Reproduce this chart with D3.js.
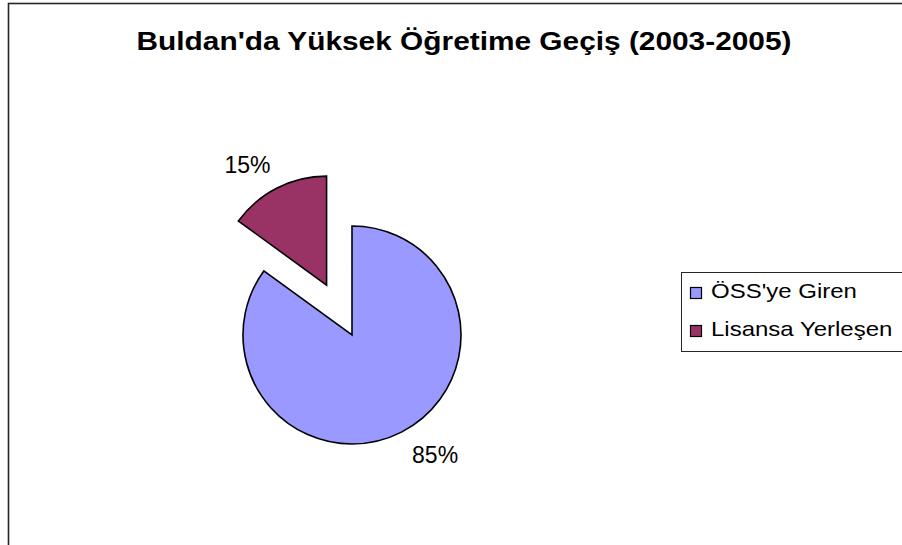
<!DOCTYPE html>
<html>
<head>
<meta charset="utf-8">
<script src="https://cdn.jsdelivr.net/npm/d3@7"></script>
<style>
  html, body { margin: 0; padding: 0; background: #fff; }
  svg { display: block; font-family: "Liberation Sans", Arial, sans-serif; }
</style>
</head>
<body>
<div id="chart"></div>
<script>
// Chart data
const title = "Buldan'da Yüksek Öğretime Geçiş (2003-2005)";
const categories = ["ÖSS'ye Giren", "Lisansa Yerleşen"];
const values = [85, 15];
const colors = ["#9999ff", "#993366"];
const exploded = [false, true];

function drawPie() {
    const W = 902, H = 545;
    const stretch = 1.2; // the original text is drawn a bit wide
    const svg = d3.select('#chart').append('svg')
        .attr('width', W)
        .attr('height', H);

    // chart frame (right and bottom edges fall outside the picture)
    svg.append('rect')
        .attr('x', 8.5).attr('y', 3.5)
        .attr('width', 1000).attr('height', 1000)
        .attr('fill', '#fff')
        .attr('stroke', '#262626')
        .attr('stroke-width', 1.6);

    svg.append('text')
        .attr('transform', `translate(464,50) scale(${stretch - 0.03},1)`)
        .attr('text-anchor', 'middle')
        .style('font-size', '25.5px')
        .style('font-weight', 'bold')
        .text(title);

    const cx = 352, cy = 335, r = 109, explode = 56;
    const total = d3.sum(values);
    const pie = d3.pie().sort(null).value(d => d.value);
    const arcs = pie(categories.map((c, i) => ({ name: c, value: values[i], i })));
    const arc = d3.arc().innerRadius(0).outerRadius(r);

    const g = svg.append('g').attr('transform', `translate(${cx},${cy})`);

    const slices = g.selectAll('.slice')
        .data(arcs)
        .enter()
        .append('g')
        .attr('class', 'slice')
        .attr('transform', d => {
            if (!exploded[d.data.i]) return null;
            const a = (d.startAngle + d.endAngle) / 2;
            return `translate(${Math.sin(a) * explode},${-Math.cos(a) * explode})`;
        });

    slices.append('path')
        .attr('d', arc)
        .attr('fill', d => colors[d.data.i])
        .attr('stroke', '#000')
        .attr('stroke-width', 1.6)
        .attr('stroke-linejoin', 'miter');

    // percent labels outside the slices
    const labelR = 145, shift = -7 * Math.PI / 180;
    slices.append('text')
        .attr('x', d => Math.sin((d.startAngle + d.endAngle) / 2 + shift) * labelR + 2)
        .attr('y', d => -Math.cos((d.startAngle + d.endAngle) / 2 + shift) * labelR)
        .attr('dy', '0.36em')
        .attr('text-anchor', 'middle')
        .style('font-size', '23px')
        .text(d => d3.format('.0%')(d.value / total));

    // legend
    const lg = svg.append('g').attr('transform', 'translate(681,272)');
    lg.append('rect')
        .attr('x', 0.5).attr('y', 0.5)
        .attr('width', 400).attr('height', 79)
        .attr('fill', '#fff')
        .attr('stroke', '#262626')
        .attr('stroke-width', 1);

    const items = lg.selectAll('.item')
        .data(categories)
        .enter()
        .append('g')
        .attr('class', 'item')
        .attr('transform', (d, i) => `translate(0,${15 + i * 38})`);

    items.append('rect')
        .attr('x', 9.5).attr('y', 0.5)
        .attr('width', 11).attr('height', 11)
        .attr('fill', (d, i) => colors[i])
        .attr('stroke', '#000')
        .attr('stroke-width', 1.2);

    items.append('text')
        .attr('transform', `translate(30,11) scale(${stretch},1)`)
        .style('font-size', '20px')
        .text(d => d);
}

drawPie();
</script>
</body>
</html>
